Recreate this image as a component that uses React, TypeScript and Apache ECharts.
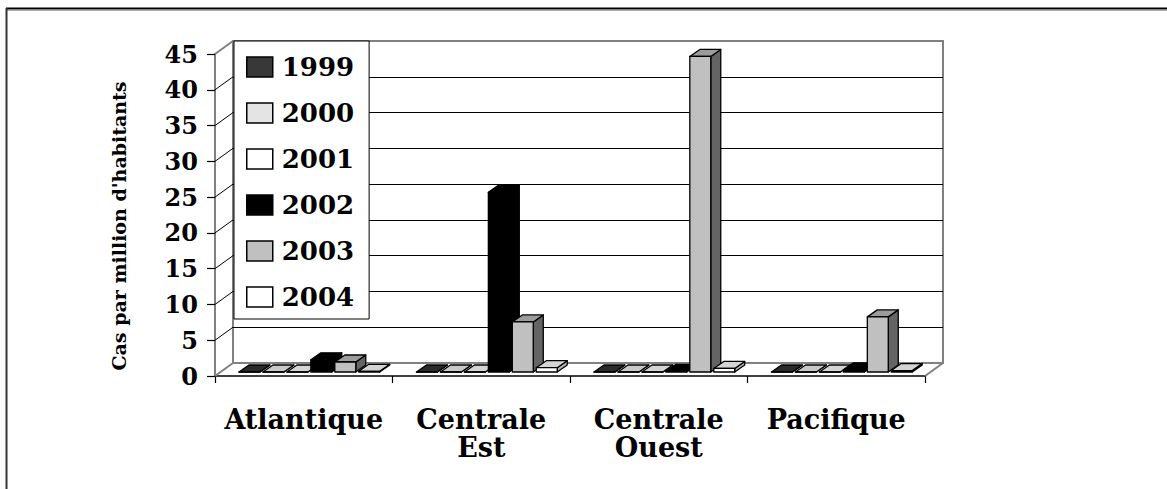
import React, { useEffect, useRef } from "react";
import * as echarts from "echarts";

// ---- data ----
const categories = ["Atlantique", "Centrale\nEst", "Centrale\nOuest", "Pacifique"];
const years = ["1999", "2000", "2001", "2002", "2003", "2004"];
const v1999 = [0, 0, 0, 0];
const v2000 = [0, 0, 0, 0];
const v2001 = [0, 0, 0, 0];
const v2002 = [1.7, 25.1, 0.1, 0.3];
const v2003 = [1.4, 7.0, 44.1, 7.7];
const v2004 = [0.1, 0.6, 0.5, 0.2];
const seriesValues = [v1999, v2000, v2001, v2002, v2003, v2004];
const yTicks = [0, 5, 10, 15, 20, 25, 30, 35, 40, 45];
const yTitle = "Cas par million d'habitants";

// ---- styles ----
const FONT = "'DejaVu Serif', 'Liberation Serif', serif";
const faceColors = [
  { front: "#383838", top: "#2a2a2a", side: "#1c1c1c" },
  { front: "#e4e4e4", top: "#c8c8c8", side: "#a8a8a8" },
  { front: "#ffffff", top: "#d4d4d4", side: "#b4b4b4" },
  { front: "#000000", top: "#000000", side: "#000000" },
  { front: "#c0c0c0", top: "#9c9c9c", side: "#646464" },
  { front: "#ffffff", top: "#d4d4d4", side: "#b4b4b4" },
];
const FLOOR_DX = 18;
const FLOOR_DY = 13;
const BAR_DX = 10;
const BAR_DY = 7;
const BAR_SHIFT_Y = 4;
const GROUP_OFFSET = 0.135;
const BAR_PITCH = 0.135;
const BAR_WIDTH = 0.118;

export default function App() {
  const ref = useRef<HTMLDivElement>(null);

  useEffect(() => {
    if (!ref.current) return;
    const chart = echarts.init(ref.current, undefined, { renderer: "svg" });

    const barSeries = years.map((name, si) => ({
      name,
      type: "custom",
      xAxisIndex: 0,
      yAxisIndex: 0,
      z: 3 + si,
      itemStyle: { color: faceColors[si].front, borderColor: "#000", borderWidth: 1.5 },
      encode: { x: 0, y: 1 },
      data: seriesValues[si].map((v, i) => [i, v]),
      renderItem: (params: any, api: any) => {
        const ci = api.value(0);
        const v = api.value(1);
        const base = api.coord([ci, 0]);
        const topP = api.coord([ci, v]);
        const cw = api.size([1, 0])[0];
        const x0 = base[0] - cw / 2 + cw * (GROUP_OFFSET + si * BAR_PITCH);
        const x1 = x0 + cw * BAR_WIDTH;
        const yb = base[1] - BAR_SHIFT_Y;
        const yt = topP[1] - BAR_SHIFT_Y;
        const c = faceColors[si];
        const stroke = { stroke: "#000", lineWidth: 1.3, lineJoin: "round" };
        return {
          type: "group",
          children: [
            {
              type: "polygon",
              shape: { points: [[x1, yb], [x1 + BAR_DX, yb - BAR_DY], [x1 + BAR_DX, yt - BAR_DY], [x1, yt]] },
              style: { fill: c.side, ...stroke },
            },
            {
              type: "polygon",
              shape: { points: [[x0, yt], [x1, yt], [x1 + BAR_DX, yt - BAR_DY], [x0 + BAR_DX, yt - BAR_DY]] },
              style: { fill: c.top, ...stroke },
            },
            {
              type: "polygon",
              shape: { points: [[x0, yb], [x1, yb], [x1, yt], [x0, yt]] },
              style: { fill: c.front, ...stroke },
            },
          ],
        };
      },
    }));

    const frameSeries = {
      name: "frame",
      type: "custom",
      silent: true,
      xAxisIndex: 0,
      yAxisIndex: 0,
      z: 1,
      encode: { x: 0, y: 1 },
      data: yTicks.map((v) => [0, v]),
      renderItem: (params: any, api: any) => {
        const cs = params.coordSys;
        const v = api.value(1);
        const y = api.coord([0, v])[1];
        const isEdge = v === yTicks[0] || v === yTicks[yTicks.length - 1];
        const children: any[] = [
          {
            type: "line",
            shape: { x1: cs.x, y1: y, x2: cs.x + FLOOR_DX, y2: y - FLOOR_DY },
            style: { stroke: isEdge ? "#808080" : "#000", lineWidth: isEdge ? 2 : 1 },
          },
        ];
        if (v === yTicks[0]) {
          children.push({
            type: "line",
            shape: { x1: cs.x + cs.width, y1: y, x2: cs.x + cs.width + FLOOR_DX, y2: y - FLOOR_DY },
            style: { stroke: "#808080", lineWidth: 2 },
          });
        }
        return { type: "group", children };
      },
    };

    chart.setOption({
      animation: false,
      backgroundColor: "#fff",
      grid: [
        { left: 215, right: 242, top: 54, bottom: 113, show: false },
        { left: 233, right: 224, top: 41, bottom: 126, show: true, borderColor: "#808080", borderWidth: 2, backgroundColor: "transparent" },
      ],
      xAxis: [
        {
          gridIndex: 0,
          type: "category",
          data: categories,
          axisLine: { show: true, lineStyle: { color: "#000", width: 1.5 } },
          axisTick: { show: true, length: 7, lineStyle: { color: "#000", width: 1.2 } },
          axisLabel: {
            fontFamily: FONT,
            fontWeight: "bold",
            fontSize: 27,
            lineHeight: 28,
            color: "#000",
            margin: 29,
            interval: 0,
          },
          splitLine: { show: false },
        },
        { gridIndex: 1, type: "category", data: categories, show: false },
      ],
      yAxis: [
        {
          gridIndex: 0,
          type: "value",
          min: 0,
          max: 45,
          interval: 5,
          axisLine: { show: true, lineStyle: { color: "#808080", width: 2 } },
          axisTick: { show: true, length: 8, lineStyle: { color: "#000", width: 1.2 } },
          axisLabel: { fontFamily: FONT, fontWeight: "bold", fontSize: 24, color: "#000", margin: 17 },
          splitLine: { show: false },
        },
        {
          gridIndex: 1,
          type: "value",
          min: 0,
          max: 45,
          interval: 5,
          axisLine: { show: false },
          axisTick: { show: false },
          axisLabel: { show: false },
          splitLine: { show: true, showMinLine: false, showMaxLine: false, lineStyle: { color: "#000", width: 1 } },
        },
      ],
      legend: {
        data: years,
        orient: "vertical",
        left: 234,
        top: 41,
        z: 20,
        icon: "rect",
        itemWidth: 26,
        itemHeight: 20,
        itemGap: 20,
        padding: [13, 15, 9, 12],
        backgroundColor: "#fff",
        borderColor: "#000",
        borderWidth: 1,
        selectedMode: false,
        itemStyle: { borderColor: "#000", borderWidth: 1.5 },
        textStyle: { fontFamily: FONT, fontWeight: "bold", fontSize: 26, lineHeight: 20, color: "#000", padding: [0, 0, 0, 4] },
      },
      graphic: [
        {
          type: "text",
          x: 119,
          y: 226,
          rotation: Math.PI / 2,
          style: {
            text: yTitle,
            fontFamily: FONT,
            fontWeight: "bold",
            fontSize: 19,
            fill: "#000",
            align: "center",
            verticalAlign: "middle",
          },
        },
        { type: "line", shape: { x1: 6, y1: 8.5, x2: 1167, y2: 8.5 }, style: { stroke: "#000", lineWidth: 2 } },
        { type: "line", shape: { x1: 7, y1: 10.5, x2: 1167, y2: 10.5 }, style: { stroke: "#b0b0b0", lineWidth: 1 } },
        { type: "line", shape: { x1: 6.5, y1: 8, x2: 6.5, y2: 489 }, style: { stroke: "#333", lineWidth: 2 } },
      ],
      series: [frameSeries, ...barSeries],
    });

    return () => chart.dispose();
  }, []);

  return <div ref={ref} style={{ position: "absolute", left: 0, top: 0, width: 1167, height: 489 }} />;
}
